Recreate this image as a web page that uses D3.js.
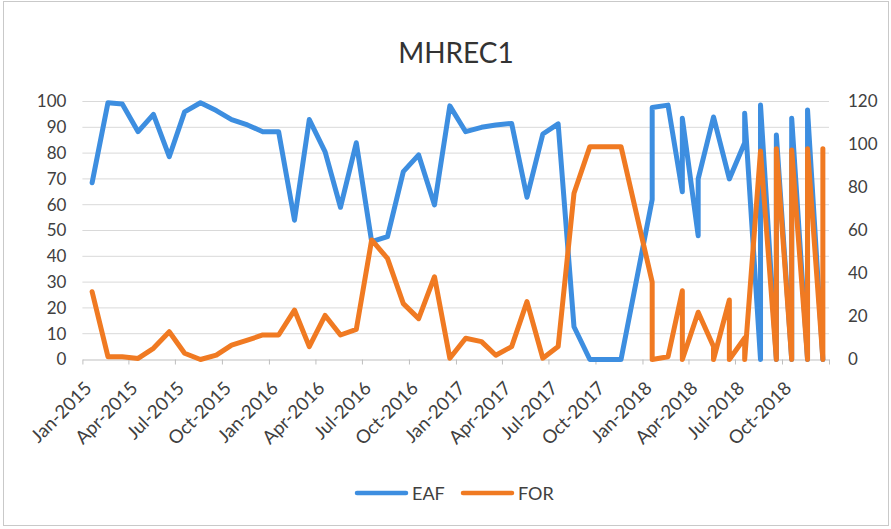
<!DOCTYPE html>
<html>
<head>
<meta charset="utf-8">
<script src="https://cdn.jsdelivr.net/npm/d3@7"></script>
<style>
  body { margin: 0; background: #fff; }
  text { font-family: Lato, "Liberation Sans", sans-serif; fill: #404040; }
</style>
</head>
<body>
<div id="chart"></div>
<script>
// one record per reading; months with two readings share a date
var dates = [
  "2015-01-20","2015-02-20","2015-03-20","2015-04-20","2015-05-20","2015-06-20",
  "2015-07-20","2015-08-20","2015-09-20","2015-10-20","2015-11-20","2015-12-20",
  "2016-01-20","2016-02-20","2016-03-20","2016-04-20","2016-05-20","2016-06-20",
  "2016-07-20","2016-08-20","2016-09-20","2016-10-20","2016-11-20","2016-12-20",
  "2017-01-20","2017-02-20","2017-03-20","2017-04-20","2017-05-20","2017-06-20",
  "2017-07-20","2017-08-20","2017-09-20","2017-10-20","2017-11-20",
  "2018-01-20","2018-01-20","2018-02-20","2018-03-20","2018-03-20",
  "2018-04-20","2018-04-20","2018-05-20","2018-05-20","2018-06-20","2018-06-20",
  "2018-07-20","2018-07-20","2018-08-20","2018-08-20","2018-09-20","2018-09-20",
  "2018-10-20","2018-10-20","2018-11-20","2018-11-20","2018-12-20","2018-12-20"
];
var eafValues = [
  68.5, 99.5, 99, 88.3, 95, 78.6,
  96, 99.5, 96.5, 93, 90.9, 88.3,
  88.3, 54, 93, 80.5, 59, 84,
  45.7, 47.6, 72.8, 79.3, 59.9, 98.3,
  88.3, 90, 90.9, 91.5, 62.9, 87.4,
  91.3, 12.7, 0, 0, 0,
  62, 97.7, 98.6, 65, 93.5,
  48, 70, 94, 94, 70, 70,
  84, 95.4, 0, 98.6, 0, 87,
  0, 93.5, 0, 96.7, 0, 0
];
var forValues = [
  31.5, 1.3, 1.3, 0.5, 5.2, 12.9,
  2.9, 0, 2, 6.7, 9, 11.4,
  11.4, 23, 6, 20.5, 11.4, 14,
  55.6, 47, 26, 19, 38.5, 0.6,
  9.9, 8.3, 2, 6, 26.9, 0.6,
  6, 77.3, 99, 99, 99,
  36, 0, 1.3, 32, 0,
  22, 22, 6, 0, 27.7, 0,
  10, 0, 97, 97, 0, 98,
  0, 97.5, 0, 98, 0, 98
];
var leftTicks = [0, 10, 20, 30, 40, 50, 60, 70, 80, 90, 100];
var rightTicks = [0, 20, 40, 60, 80, 100, 120];
var seriesNames = ["EAF", "FOR"];
var seriesColors = ["#3d8ee0", "#f07a22"];

var W = 891, H = 529;
var plot = { left: 82.4, right: 829, top: 101.5, bottom: 359.5 };
var parse = d3.timeParse("%Y-%m-%d");

var rows = dates.map(function(d, i) {
  return { date: parse(d), eaf: eafValues[i], fr: forValues[i] };
});

var svg = d3.select("#chart").append("svg")
  .attr("width", W).attr("height", H);

svg.append("rect")
  .attr("x", 3.5).attr("y", 1.5)
  .attr("width", W - 6).attr("height", H - 5)
  .attr("fill", "#fff").attr("stroke", "#c9c9c9");

var x = d3.scaleTime()
  .domain([new Date(2015, 0, 1), new Date(2019, 0, 1)])
  .range([plot.left, plot.right]);
var yL = d3.scaleLinear().domain([0, 100]).range([plot.bottom, plot.top]);
var yR = d3.scaleLinear().domain([0, 120]).range([plot.bottom, plot.top]);

// title
svg.append("text")
  .attr("x", 456).attr("y", 63)
  .attr("text-anchor", "middle")
  .style("font-size", "28px")
  .style("fill", "#333")
  .text("MHREC1");

// gridlines
svg.append("g").selectAll("line")
  .data(leftTicks.slice(1))
  .enter().append("line")
  .attr("x1", plot.left).attr("x2", plot.right)
  .attr("y1", function(d) { return yL(d); })
  .attr("y2", function(d) { return yL(d); })
  .attr("stroke", "#d9d9d9").attr("stroke-width", 1);

// left axis
var leftAxis = svg.append("g")
  .attr("transform", "translate(" + plot.left + ",0)")
  .call(d3.axisLeft(yL).tickValues(leftTicks).tickSize(0).tickPadding(16));
leftAxis.select(".domain").remove();
leftAxis.selectAll("text").style("font-size", "17px").style("fill", "#404040");

// right axis
var rightAxis = svg.append("g")
  .attr("transform", "translate(" + plot.right + ",0)")
  .call(d3.axisRight(yR).tickValues(rightTicks).tickSize(0).tickPadding(19));
rightAxis.select(".domain").remove();
rightAxis.selectAll("text").style("font-size", "17px").style("fill", "#404040");

// bottom axis
var quarterTicks = d3.timeMonth.every(3).range(new Date(2015, 0, 1), new Date(2019, 0, 2));
var fmt = d3.timeFormat("%b-%Y");
var bottomAxis = svg.append("g")
  .attr("transform", "translate(0," + plot.bottom + ")")
  .call(d3.axisBottom(x).tickValues(quarterTicks).tickSizeInner(5).tickSizeOuter(0)
    .tickFormat(function(d, i) { return i < quarterTicks.length - 1 ? fmt(d) : ""; }));
bottomAxis.select(".domain").attr("stroke", "#bfbfbf");
bottomAxis.selectAll(".tick line").attr("stroke", "#bfbfbf");
bottomAxis.selectAll("text")
  .style("font-size", "18.5px").style("fill", "#404040")
  .attr("text-anchor", "end")
  .attr("x", 0).attr("y", 0).attr("dx", 0).attr("dy", 0)
  .attr("transform", "translate(10,30) rotate(-45)");

// lines
var lineEaf = d3.line()
  .x(function(d) { return x(d.date); })
  .y(function(d) { return yL(d.eaf); });
var lineFor = d3.line()
  .x(function(d) { return x(d.date); })
  .y(function(d) { return yR(d.fr); });

svg.append("path").datum(rows)
  .attr("d", lineEaf)
  .attr("fill", "none").attr("stroke", seriesColors[0])
  .attr("stroke-width", 5).attr("stroke-linejoin", "round").attr("stroke-linecap", "round");
svg.append("path").datum(rows)
  .attr("d", lineFor)
  .attr("fill", "none").attr("stroke", seriesColors[1])
  .attr("stroke-width", 5).attr("stroke-linejoin", "round").attr("stroke-linecap", "round");

// legend
var legendX = [357, 463];
var legend = svg.append("g").selectAll("g")
  .data(seriesNames)
  .enter().append("g")
  .attr("transform", function(d, i) { return "translate(" + legendX[i] + ",493)"; });
legend.append("line")
  .attr("x1", 0).attr("x2", 49).attr("y1", 0).attr("y2", 0)
  .attr("stroke", function(d, i) { return seriesColors[i]; })
  .attr("stroke-width", 4.5).attr("stroke-linecap", "round");
legend.append("text")
  .attr("x", 55).attr("y", 7)
  .style("font-size", "18px")
  .text(function(d) { return d; });
</script>
</body>
</html>
